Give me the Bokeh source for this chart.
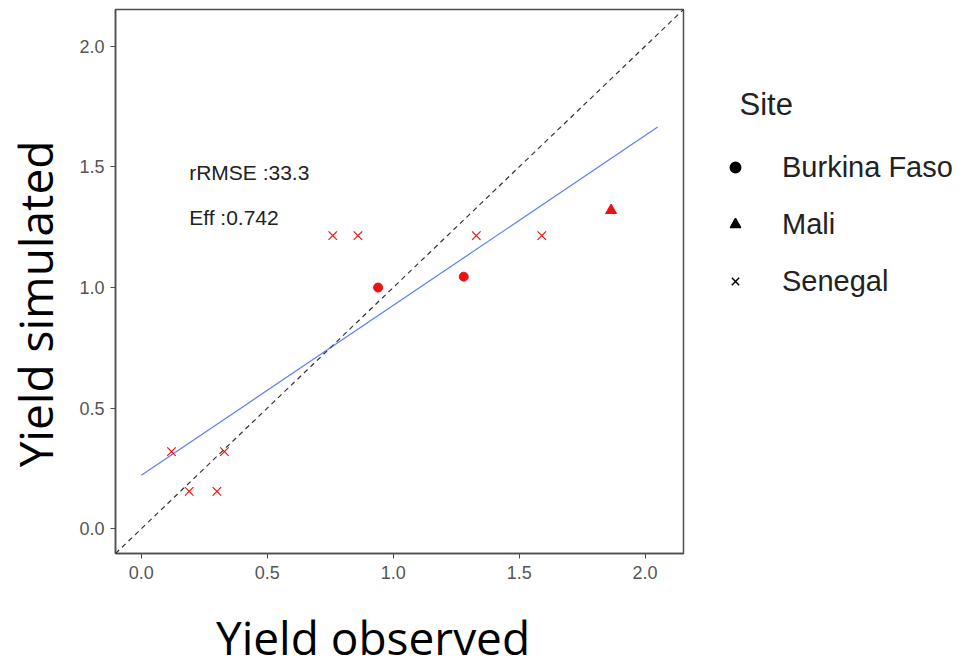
import numpy as np
from bokeh.plotting import figure
from bokeh.layouts import row, column
from bokeh.models import (Range1d, FixedTicker, PrintfTickFormatter, Label, Legend,
                          LegendItem, Slope, ColumnDataSource)
from bokeh.embed import file_html
from bokeh.resources import INLINE

# ---------------- data ----------------
sites = ["Burkina Faso", "Mali", "Senegal"]
burkina_obs = [0.94, 1.28]
burkina_sim = [1.00, 1.045]
mali_obs = [1.865]
mali_sim = [1.32]
senegal_obs = [0.12, 0.33, 0.19, 0.30, 0.76, 0.86, 1.33, 1.59]
senegal_sim = [0.32, 0.32, 0.155, 0.155, 1.215, 1.215, 1.215, 1.215]
axis_limits = [0.0, 2.05]
fit_range = [0.0, 2.05]
ticks = [0.0, 0.5, 1.0, 1.5, 2.0]
rrmse = 33.3
eff = 0.742
x_title = "Yield observed"
y_title = "Yield simulated"
legend_title = "Site"

TOP_H = 605      # height of the upper row
BOT_H = 63       # height of the x-title strip
LEFT_W = 70      # width of the y-title strip
MAIN_W = 630
LEG_W = 269


def aux(w, h):
    f = figure(width=w, height=h, output_backend="svg", toolbar_location=None,
               x_range=Range1d(0, w), y_range=Range1d(0, h),
               x_axis_type=None, y_axis_type=None, min_border=0)
    f.outline_line_color = None
    f.grid.visible = False
    f.background_fill_color = "white"
    f.border_fill_color = "white"
    return f


# -------------- main figure ----------------
pad = 0.05 * (axis_limits[1] - axis_limits[0])
p = figure(width=MAIN_W, height=TOP_H, output_backend="svg", toolbar_location=None,
           x_range=Range1d(axis_limits[0] - pad, axis_limits[1] + pad),
           y_range=Range1d(axis_limits[0] - pad, axis_limits[1] + pad),
           min_border_left=45, min_border_right=17, min_border_top=9,
           min_border_bottom=52)
p.background_fill_color = "white"
p.border_fill_color = "white"
p.outline_line_color = "#4d4d4d"
p.outline_line_width = 1.5
p.xgrid.visible = False
p.ygrid.visible = False

for ax in (p.xaxis[0], p.yaxis[0]):
    ax.ticker = FixedTicker(ticks=ticks)
    ax.formatter = PrintfTickFormatter(format="%.1f")
    ax.axis_line_color = "#4d4d4d"
    ax.axis_line_width = 1.5
    ax.major_tick_line_color = "#4d4d4d"
    ax.major_tick_in = 0
    ax.major_tick_out = 5
    ax.minor_tick_line_color = None
    ax.major_label_text_font = "Liberation Sans"
    ax.major_label_text_font_size = "18px"
    ax.major_label_text_color = "#555555"
p.xaxis[0].major_label_standoff = 7
p.yaxis[0].major_label_standoff = 6

# 1:1 line
p.add_layout(Slope(gradient=1, y_intercept=0, line_color="#333333",
                   line_width=1.2, line_dash="5 4"))

# linear fit of all points
all_obs = np.array(burkina_obs + mali_obs + senegal_obs)
all_sim = np.array(burkina_sim + mali_sim + senegal_sim)
slope, intercept = np.polyfit(all_obs, all_sim, 1)
fx = np.array(fit_range)
p.line(fx, intercept + slope * fx, line_color="#5b80f0", line_width=1.2)

# points
red = "#ee1111"
p.scatter(burkina_obs, burkina_sim, marker="circle", size=9, fill_color=red, line_color=red)
p.scatter(mali_obs, mali_sim, marker="triangle", size=11, fill_color=red, line_color=red)
p.scatter(senegal_obs, senegal_sim, marker="x", size=12, line_color=red, line_width=1.2)

# stats annotations
p.add_layout(Label(x=0.19, y=1.476, text=f"rRMSE :{rrmse}", text_font="Liberation Sans",
                   text_font_size="21px", text_color="#222222", text_baseline="middle"))
p.add_layout(Label(x=0.19, y=1.29, text=f"Eff :{eff}", text_font="Liberation Sans",
                   text_font_size="21px", text_color="#222222", text_baseline="middle"))

# -------------- y title strip ----------------
yf = aux(LEFT_W, TOP_H)
yf.add_layout(Label(x=34, y=277.5, text=y_title, text_font="Open Sans",
                    text_font_size="46px", text_color="black", text_align="center",
                    text_baseline="middle", angle=np.pi / 2))

# -------------- legend strip ----------------
lf = aux(LEG_W, TOP_H)
leg_markers = ["circle", "triangle", "x"]
items = []
for name, mk in zip(sites, leg_markers):
    src = ColumnDataSource(dict(x=[np.nan], y=[np.nan]))
    r = lf.scatter("x", "y", source=src, marker=mk, fill_color="black",
                   line_color="black", line_width=1.5)
    items.append(LegendItem(label=name, renderers=[r]))
legend = Legend(items=items, location=(22, 254), orientation="vertical",
                glyph_width=26, glyph_height=36, label_height=36, spacing=21,
                label_standoff=34, padding=0, margin=0, border_line_color=None,
                background_fill_alpha=0, label_text_font="Liberation Sans",
                label_text_font_size="29px", label_text_color="#222222",
                label_text_baseline="middle")
lf.add_layout(legend)
lf.add_layout(Label(x=39, y=499, text=legend_title, text_font="Liberation Sans",
                    text_font_size="31px", text_color="#222222",
                    text_baseline="middle"))

# -------------- x title strip ----------------
xf = aux(LEFT_W + MAIN_W + LEG_W, BOT_H)
xf.add_layout(Label(x=372.5, y=32, text=x_title, text_font="Open Sans",
                    text_font_size="46px", text_color="black", text_align="center",
                    text_baseline="middle"))

layout = column(row(yf, p, lf, spacing=0), xf, spacing=0)
open("out.html", "w").write(file_html(layout, INLINE))
